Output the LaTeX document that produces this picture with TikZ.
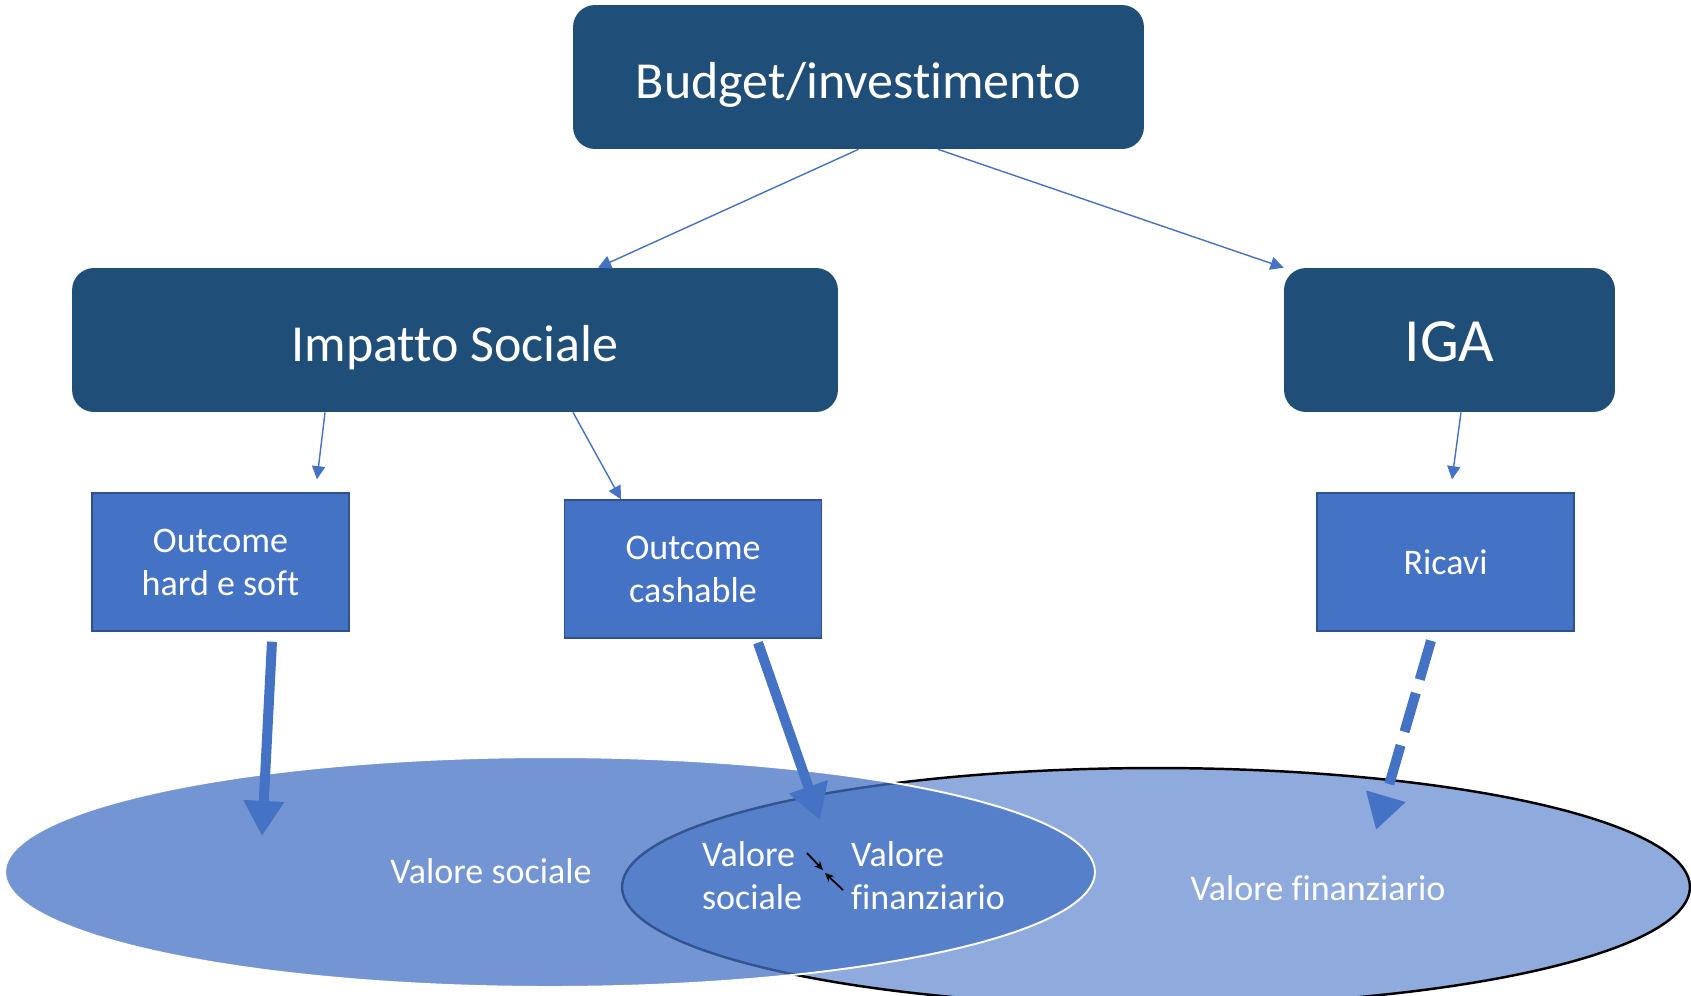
\documentclass[tikz,border=0pt]{standalone}
\usepackage{fontspec}
\setmainfont[Ligatures={NoCommon}]{Carlito}
\usetikzlibrary{arrows.meta,calc}
\definecolor{navy}{HTML}{1F4E79}
\definecolor{acc}{HTML}{4472C4}
\definecolor{accdark}{HTML}{2F528F}
\definecolor{lightell}{HTML}{8FAADC}
\begin{document}
\begin{tikzpicture}[x=0.02cm,y=-0.02cm,
  bigbox/.style={fill=navy, rounded corners=0.44cm, text=white, font=\fontsize{29.6}{36}\selectfont, minimum height=2.88cm, inner sep=0pt, text height=24.9pt, text depth=0pt},
  medbox/.style={fill=acc, draw=accdark, line width=0.8pt, text=white, font=\fontsize{20.5}{24.5}\selectfont, align=center, minimum width=5.14cm, minimum height=2.76cm, inner sep=0pt},
  lbl/.style={text=white, font=\fontsize{20.5}{24.5}\selectfont, inner sep=1pt},
  thinarrow/.style={draw=acc, line width=0.8pt, -{Triangle[length=7.5pt,width=7.5pt]}},
  bigarrow/.style={draw=acc, line width=5.7pt, -{Triangle[length=20pt,width=22pt]}},
  smallarrow/.style={draw=black, line width=1pt, -{Stealth[length=5pt,width=4.5pt]}}
]
\useasboundingbox (0,0) rectangle (1691,995);
\clip (0,0) rectangle (1691,995);

% ellipses
\draw[fill=lightell, draw=black, line width=1.4pt] (1156,887) ellipse [x radius=10.68cm, y radius=2.38cm];
\draw[fill=acc, fill opacity=0.75, draw=white, line width=1.1pt] (550,872) ellipse [x radius=10.9cm, y radius=2.3cm];

% boxes
\node[bigbox, minimum width=11.42cm] (budget) at (858.5,77) {Budget/investimento};
\node[bigbox, minimum width=15.32cm] (impatto) at (455,340) {Impatto Sociale};
\node[bigbox, minimum width=6.62cm, font=\fontsize{35}{40}\selectfont] (iga) at (1449.5,340) {IGA};
\node[medbox] (hard) at (220.5,562) {Outcome\\hard e soft};
\node[medbox] (cash) at (693,569) {Outcome\\cashable};
\node[medbox] (ricavi) at (1445.5,562) {Ricavi};

% ellipse labels
\node[lbl] (vs) at (491,871) {Valore sociale};
\node[lbl, align=left, anchor=west] (vs2) at (700,876) {Valore\\sociale};
\node[lbl, align=left, anchor=west] (vf2) at (849,876) {Valore\\finanziario};
\node[lbl] (vf) at (1318,888) {Valore finanziario};

% thin connectors
\draw[thinarrow] (budget.south) -- ([xshift=2.86cm]impatto.north);
\draw[thinarrow] ([xshift=1.59cm]budget.south) -- (iga.north west);
\draw[thinarrow] ([xshift=-2.6cm]impatto.south) -- ([xshift=1.93cm,yshift=0.26cm]hard.north);
\draw[thinarrow] ([xshift=2.36cm]impatto.south) -- ([xshift=-1.44cm]cash.north);
\draw[thinarrow] ([xshift=0.23cm]iga.south) -- ([xshift=0.13cm,yshift=0.26cm]ricavi.north);

% thick connectors
\coordinate (e1) at (262,836);
\coordinate (e2) at (820,820);
\coordinate (e3) at (1376,830);
\draw[bigarrow] ([xshift=1.03cm,yshift=-0.2cm]hard.south) -- (e1);
\draw[bigarrow] ([xshift=1.3cm,yshift=-0.08cm]cash.south) -- (e2);
\draw[bigarrow, dash pattern=on 23pt off 8pt] ([xshift=-0.29cm,yshift=-0.18cm]ricavi.south) -- (e3);

% small converging arrows
\coordinate (xa) at (807,853);
\coordinate (xc) at (823,870);
\coordinate (xb) at (843,890);
\coordinate (xd) at (825,873);
\draw[smallarrow] (xa) -- (xc);
\draw[smallarrow] (xb) -- (xd);
\end{tikzpicture}
\end{document}
